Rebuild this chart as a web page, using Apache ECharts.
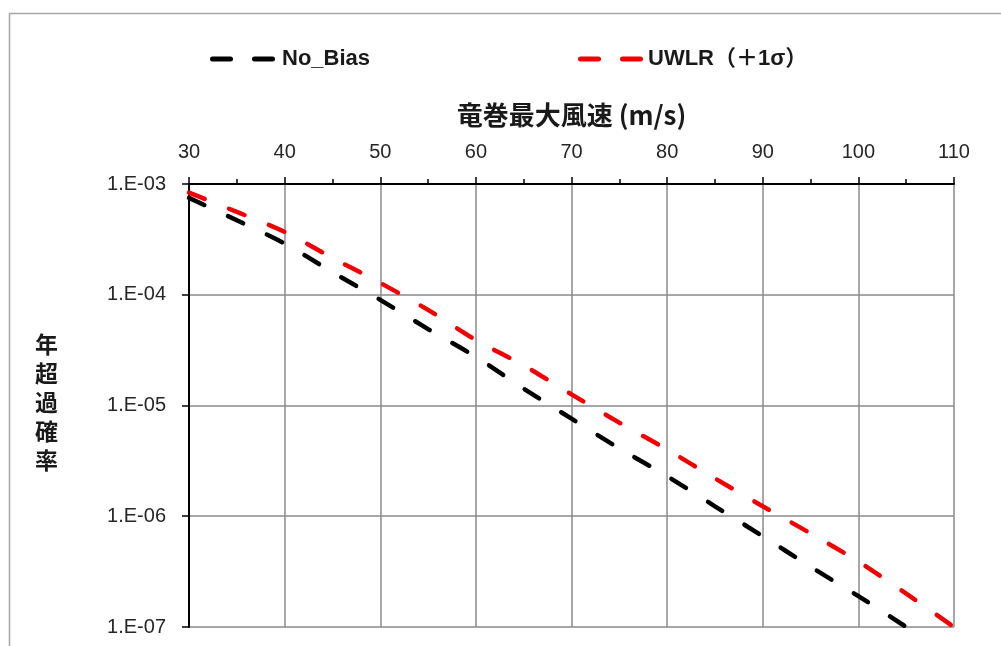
<!DOCTYPE html>
<html>
<head>
<meta charset="utf-8">
<script src="https://cdn.jsdelivr.net/npm/echarts@6/dist/echarts.min.js"></script>
<style>html,body{margin:0;padding:0;background:#fff;}#c{width:1001px;height:646px;}</style>
</head>
<body>
<div id="c"></div>
<script>
const windSpeed = [30, 35, 40, 45, 50, 55, 60, 65, 70, 75, 80, 85, 90, 95, 100, 105, 110];
const noBias = [7.5e-4, 4.7e-4, 2.9e-4, 1.6e-4, 9.0e-5, 4.9e-5, 2.75e-5, 1.42e-5, 7.6e-6, 4.1e-6, 2.3e-6, 1.23e-6, 6.6e-7, 3.5e-7, 1.9e-7, 1.0e-7];
const uwlr = [8.35e-4, 5.6e-4, 3.7e-4, 2.15e-4, 1.28e-4, 7.3e-5, 3.9e-5, 2.3e-5, 1.26e-5, 7.0e-6, 4.0e-6, 2.2e-6, 1.23e-6, 7.0e-7, 3.9e-7, 2.0e-7, 1.0e-7];
const seriesNames = ['No_Bias', 'UWLR（＋1σ）'];
const xAxisTitle = '竜巻最大風速 (m/s)';
const yAxisTitle = '年超過確率';

const pair = (xs, ys) => ys.map((v, i) => [xs[i], v]);
const FONT = '"Liberation Sans", "Noto Sans CJK JP", sans-serif';
const CJK = '"Noto Sans CJK JP", sans-serif';
const dashIcon = 'path://M2.5,0 h18 a2.5,2.5 0 0 1 0,5 h-18 a2.5,2.5 0 0 1 0,-5z M44.5,0 h18 a2.5,2.5 0 0 1 0,5 h-18 a2.5,2.5 0 0 1 0,-5z';

const chart = echarts.init(document.getElementById('c'), null, {renderer: 'canvas'});
chart.setOption({
  animation: false,
  backgroundColor: '#fff',
  grid: {left: 189, right: 47, top: 184, bottom: 19, containLabel: false},
  legend: [
    {data: [seriesNames[0]], left: 205, top: 43, icon: dashIcon, itemWidth: 65, itemHeight: 5, itemGap: 0,
     textStyle: {fontFamily: FONT, fontSize: 22, fontWeight: 'bold', color: '#1a1a1a', padding: [0,0,0,2]}},
    {data: [seriesNames[1]], left: 573, top: 43, icon: dashIcon, itemWidth: 65, itemHeight: 5, itemGap: 0,
     textStyle: {fontFamily: FONT, fontSize: 22, fontWeight: 'bold', color: '#1a1a1a', padding: [0,0,0,0]}}
  ],
  graphic: [
    {type: 'rect', left: 7, top: 11, z: -10, silent: true,
     shape: {width: 1100, height: 700}, style: {fill: 'none', stroke: '#a6a6a6', lineWidth: 1.5}},
    {type: 'text', left: 35, top: 330, silent: true,
     style: {text: yAxisTitle.split('').join('\n'), font: 'bold 23px ' + CJK, lineHeight: 29, fill: '#1a1a1a', align: 'center'}}
  ],
  xAxis: {
    type: 'value', position: 'top', min: 30, max: 110, interval: 10,
    name: xAxisTitle, nameLocation: 'middle', nameGap: 56,
    nameTextStyle: {fontFamily: CJK, fontSize: 26, fontWeight: 'bold', color: '#1a1a1a'},
    axisLine: {show: true, onZero: false, lineStyle: {color: '#000', width: 2}},
    axisTick: {show: true, inside: false, length: 7, lineStyle: {color: '#000', width: 1.5}},
    minorTick: {show: true, splitNumber: 2, length: 5, lineStyle: {color: '#000', width: 1.5}},
    axisLabel: {margin: 22, fontFamily: FONT, fontSize: 20, color: '#262626'},
    splitLine: {show: true, lineStyle: {color: '#8a8a8a', width: 1.5}}
  },
  yAxis: {
    type: 'log', logBase: 10, min: 1e-7, max: 1e-3,
    axisLine: {show: true, onZero: false, lineStyle: {color: '#000', width: 2}},
    axisTick: {show: true, inside: false, length: 7, lineStyle: {color: '#000', width: 1.5}},
    axisLabel: {margin: 23, fontFamily: FONT, fontSize: 20, color: '#262626',
      formatter: v => { const e = Math.round(Math.log10(v)); const a = Math.abs(e); return '1.E' + (e < 0 ? '-' : '+') + (a < 10 ? '0' : '') + a; }},
    splitLine: {show: true, lineStyle: {color: '#8a8a8a', width: 1.5}}
  },
  series: [
    {name: seriesNames[0], type: 'line', data: pair(windSpeed, noBias), showSymbol: false, symbol: 'none', smooth: 0.3,
     itemStyle: {color: '#000'}, lineStyle: {color: '#000', width: 4.5, type: [17, 26], cap: 'round'}, z: 3},
    {name: seriesNames[1], type: 'line', data: pair(windSpeed, uwlr), showSymbol: false, symbol: 'none', smooth: 0.3,
     itemStyle: {color: '#f00000'}, lineStyle: {color: '#f00000', width: 4.5, type: [17, 26], cap: 'round'}, z: 4}
  ]
});
</script>
</body>
</html>
